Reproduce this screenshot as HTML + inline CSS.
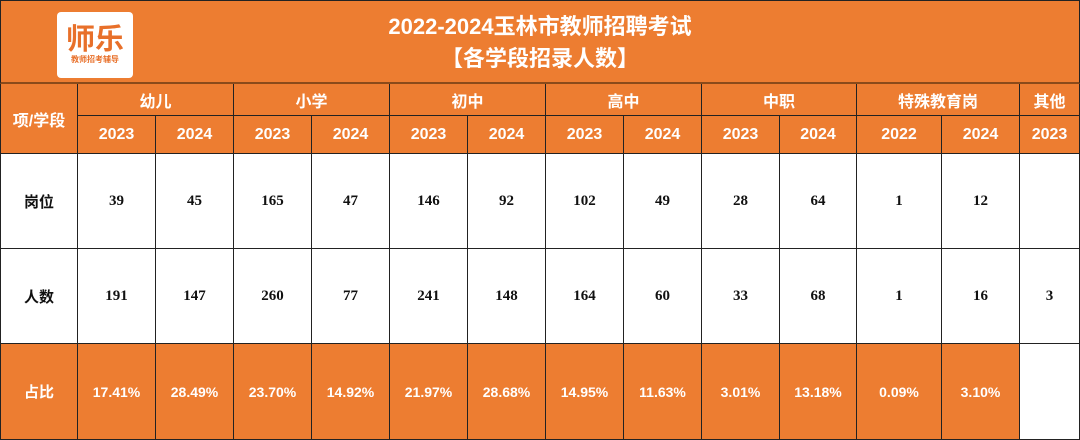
<!DOCTYPE html>
<html><head><meta charset="utf-8">
<style>
html,body{margin:0;padding:0;width:1080px;height:440px;overflow:hidden;background:#fff;}
#root{position:relative;width:1080px;height:440px;font-family:"Liberation Sans","Noto Sans CJK SC",sans-serif;}
.c{position:absolute;box-sizing:border-box;display:flex;align-items:center;justify-content:center;border-right:1.5px solid #222;border-bottom:1.5px solid #222;font-weight:bold;}
.o{background:#ED7D31;color:#fff;}
.w{background:#fff;color:#111;}
.num{font-family:"Liberation Serif","Noto Serif CJK SC",serif;font-size:15px;}
</style></head>
<body>
<div id="root">
  <div class="o" style="position:absolute;left:0;top:0;width:1080px;height:84px;border-bottom:2px solid #8a4a1a;box-sizing:border-box;border-top:1.5px solid #222;border-left:1.5px solid #222;border-right:1.5px solid #222;"></div>
  <div style="position:absolute;left:57px;top:12px;width:76px;height:66px;background:#fff;border-radius:4px;text-align:center;">
    <div style="color:#E8702A;font-size:29px;font-weight:bold;line-height:34px;margin-top:8px;font-family:'Noto Sans CJK SC',sans-serif;">师乐</div>
    <div style="color:#E8702A;font-size:8px;font-weight:bold;line-height:12px;font-family:'Noto Sans CJK SC',sans-serif;">教师招考辅导</div>
  </div>
  <div style="position:absolute;left:300px;top:11px;width:480px;text-align:center;color:#fff;font-weight:bold;font-size:22px;line-height:32px;font-family:'Liberation Sans','Noto Sans CJK SC',sans-serif;">2022-2024玉林市教师招聘考试<br>【各学段招录人数】</div>
</div>
<script>
var groups=["幼儿","小学","初中","高中","中职","特殊教育岗","其他"];
var years=["2023","2024","2023","2024","2023","2024","2023","2024","2023","2024","2022","2024","2023"];
var posts=["39","45","165","47","146","92","102","49","28","64","1","12",""];
var people=["191","147","260","77","241","148","164","60","33","68","1","16","3"];
var ratios=["17.41%","28.49%","23.70%","14.92%","21.97%","28.68%","14.95%","11.63%","3.01%","13.18%","0.09%","3.10%",""];
var xs=[78,156,234,312,390,468,546,624,702,780,857,942,1020,1080];
var root=document.getElementById('root');
function cell(x,y,w,h,cls,txt,name,fs){
  var d=document.createElement('div');
  d.className='c '+cls;
  d.style.left=x+'px';d.style.top=y+'px';d.style.width=w+'px';d.style.height=h+'px';
  if(fs)d.style.fontSize=fs+'px';
  d.textContent=txt;
  
  
  root.appendChild(d);
  return d;
}
var h0=cell(0,84,78,70,'o','项/学段','row-header-label',16);h0.style.borderLeft='1.5px solid #222';
var rl=[['岗位','row-label-posts',154,95,'w'],['人数','row-label-people',249,95,'w'],['占比','row-label-ratio',344,96,'o']];
rl.forEach(function(r){var d=cell(0,r[2],78,r[3],r[4],r[0],r[1],15);d.style.borderLeft='1.5px solid #222';});
var gi=[0,2,4,6,8,10,12,13];
for(var g=0;g<groups.length;g++){
  cell(xs[gi[g]],84,xs[gi[g+1]]-xs[gi[g]],32,'o',groups[g],'group-header',16);
}
for(var i=0;i<years.length;i++){
  var x=xs[i],w=xs[i+1]-xs[i];
  cell(x,116,w,38,'o',years[i],'year-header',16);
  cell(x,154,w,95,'w num',posts[i],'posts-value');
  cell(x,249,w,95,'w num',people[i],'people-value');
  cell(x,344,w,96,i==12?'w':'o',ratios[i],'ratio-value',14);
}
</script>
</body></html>
